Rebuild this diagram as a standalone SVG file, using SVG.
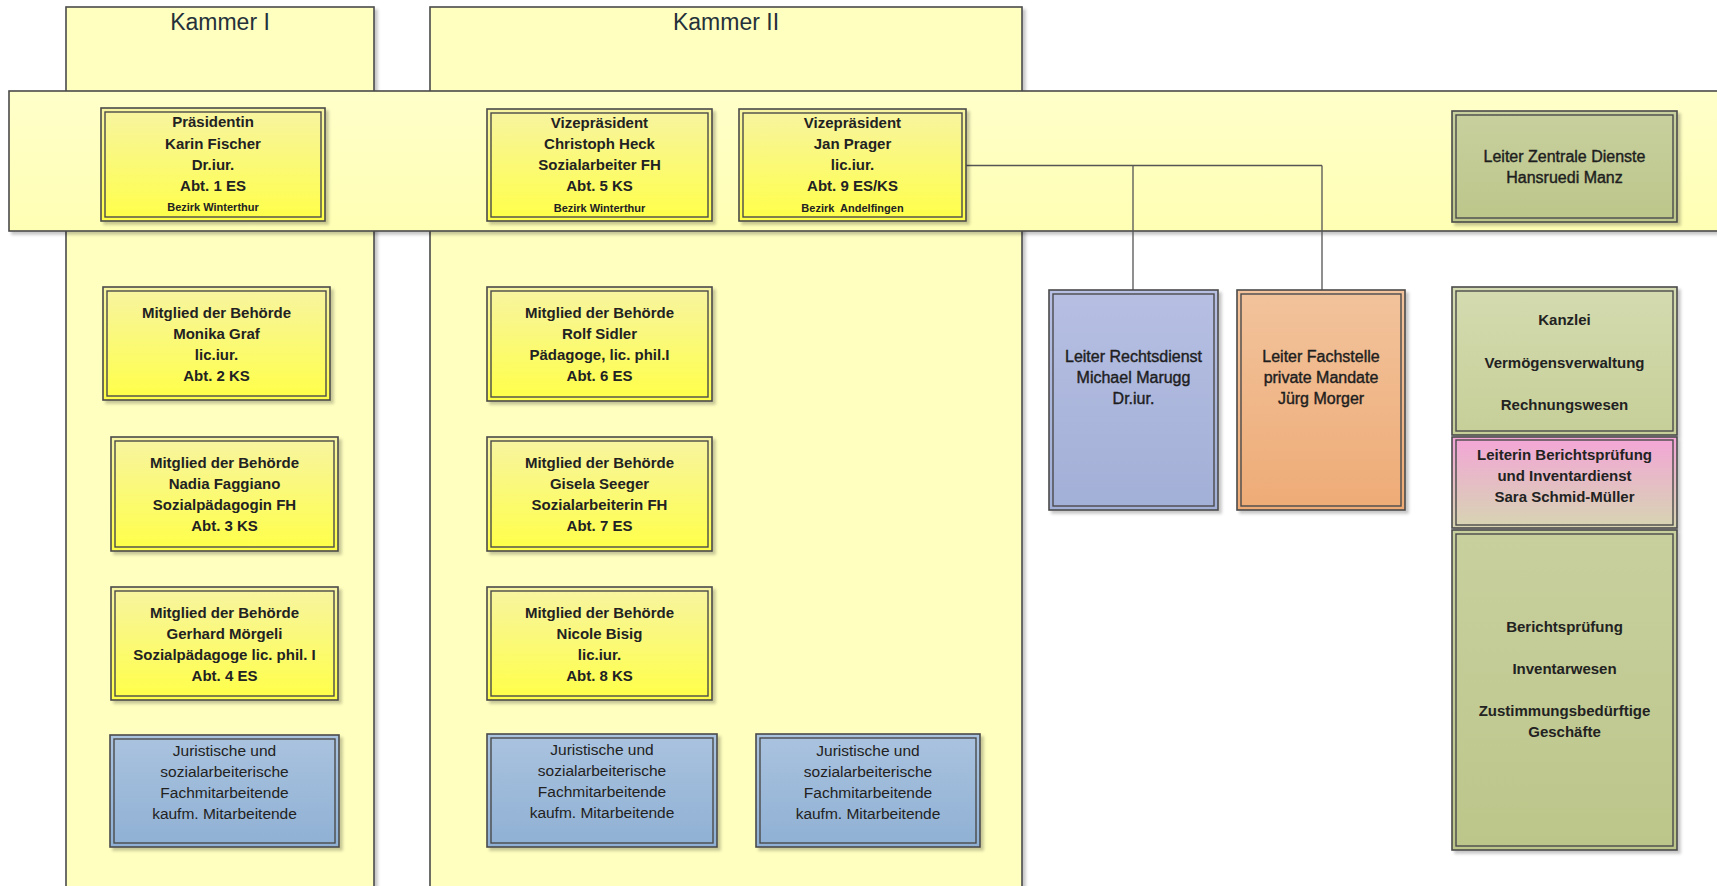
<svg xmlns="http://www.w3.org/2000/svg" width="1717" height="886" viewBox="0 0 1717 886">
<defs>
<style>
.o{stroke:#4a4a4a;stroke-width:1.6}
.i{fill:none;stroke:#4a4a4a;stroke-width:1.4}
.t{font-family:"Liberation Sans",Arial,sans-serif;font-size:15px;font-weight:bold;fill:#222;text-anchor:middle}
.s{font-family:"Liberation Sans",Arial,sans-serif;font-size:11px;font-weight:bold;fill:#222;text-anchor:middle}
.r{font-family:"Liberation Sans",Arial,sans-serif;font-size:15.5px;fill:#222;text-anchor:middle}
.m{font-family:"Liberation Sans",Arial,sans-serif;font-size:16px;fill:#1e1e1e;stroke:#1e1e1e;stroke-width:0.4;text-anchor:middle}
.k{font-family:"Liberation Sans",Arial,sans-serif;font-size:23px;fill:#25313a;text-anchor:middle}
.c{fill:none;stroke:#555;stroke-width:1.3}
</style>
<filter id="sh" x="-10%" y="-10%" width="130%" height="130%">
<feDropShadow dx="3" dy="3" stdDeviation="1.5" flood-color="#000" flood-opacity="0.22"/>
</filter>
<linearGradient id="gy" x1="0" y1="0" x2="0" y2="1"><stop offset="0" stop-color="#f7f4a2"/><stop offset="1" stop-color="#ffff48"/></linearGradient>
<linearGradient id="gband" x1="0" y1="0" x2="0" y2="1"><stop offset="0" stop-color="#ffffca"/><stop offset="1" stop-color="#ffffb4"/></linearGradient>
<linearGradient id="gg" x1="0" y1="0" x2="0" y2="1"><stop offset="0" stop-color="#c8d09e"/><stop offset="1" stop-color="#bcc68a"/></linearGradient>
<linearGradient id="gk" x1="0" y1="0" x2="0" y2="1"><stop offset="0" stop-color="#d4dbb0"/><stop offset="1" stop-color="#c6cf98"/></linearGradient>
<linearGradient id="gp" x1="0" y1="0" x2="0" y2="1"><stop offset="0" stop-color="#f4a5d7"/><stop offset="1" stop-color="#d6d5b2"/></linearGradient>
<linearGradient id="gbl" x1="0" y1="0" x2="0" y2="1"><stop offset="0" stop-color="#b7bfe3"/><stop offset="1" stop-color="#a2afd6"/></linearGradient>
<linearGradient id="go" x1="0" y1="0" x2="0" y2="1"><stop offset="0" stop-color="#f2c39c"/><stop offset="1" stop-color="#eeab76"/></linearGradient>
<linearGradient id="gj" x1="0" y1="0" x2="0" y2="1"><stop offset="0" stop-color="#aac3df"/><stop offset="1" stop-color="#8fb0d4"/></linearGradient>
</defs>
<rect width="1717" height="886" fill="#fff"/>

<g id="kammer1">
<rect class="o" x="66" y="7" width="308" height="890" fill="#ffffc0" filter="url(#sh)"/>
<text class="k" x="220" y="30">Kammer I</text>
</g>
<g id="kammer2">
<rect class="o" x="430" y="7" width="592" height="890" fill="#ffffc0" filter="url(#sh)"/>
<text class="k" x="726" y="30">Kammer II</text>
</g>
<g id="band">
<rect class="o" x="9" y="91" width="1720" height="140" fill="url(#gband)" filter="url(#sh)"/>
</g>

<g id="connectors">
<path class="c" d="M966 165.5 H1322 M1133 165.5 V290 M1322 165.5 V290"/>
</g>

<g id="praesidentin">
<rect class="o" x="101" y="108" width="224" height="113" fill="url(#gy)" filter="url(#sh)"/>
<rect class="i" x="105" y="112" width="216" height="105"/>
<text class="t" x="213" y="127">Präsidentin</text>
<text class="t" x="213" y="149">Karin Fischer</text>
<text class="t" x="213" y="170">Dr.iur.</text>
<text class="t" x="213" y="191">Abt. 1 ES</text>
<text class="s" x="213" y="211">Bezirk Winterthur</text>
</g>
<g id="vize1">
<rect class="o" x="487" y="109" width="225" height="112" fill="url(#gy)" filter="url(#sh)"/>
<rect class="i" x="491" y="113" width="217" height="104"/>
<text class="t" x="599.5" y="128">Vizepräsident</text>
<text class="t" x="599.5" y="149">Christoph Heck</text>
<text class="t" x="599.5" y="170">Sozialarbeiter FH</text>
<text class="t" x="599.5" y="191">Abt. 5 KS</text>
<text class="s" x="599.5" y="212">Bezirk Winterthur</text>
</g>
<g id="vize2">
<rect class="o" x="739" y="109" width="227" height="112" fill="url(#gy)" filter="url(#sh)"/>
<rect class="i" x="743" y="113" width="219" height="104"/>
<text class="t" x="852.5" y="128">Vizepräsident</text>
<text class="t" x="852.5" y="149">Jan Prager</text>
<text class="t" x="852.5" y="170">lic.iur.</text>
<text class="t" x="852.5" y="191">Abt. 9 ES/KS</text>
<text class="s" x="852.5" y="212" xml:space="preserve">Bezirk  Andelfingen</text>
</g>
<g id="zentrale">
<rect class="o" x="1452" y="111" width="225" height="111" fill="url(#gg)" filter="url(#sh)"/>
<rect class="i" x="1456" y="115" width="217" height="103"/>
<text class="m" x="1564.5" y="162">Leiter Zentrale Dienste</text>
<text class="m" x="1564.5" y="183">Hansruedi Manz</text>
</g>

<g id="graf">
<rect class="o" x="103" y="287" width="227" height="113" fill="url(#gy)" filter="url(#sh)"/>
<rect class="i" x="107" y="291" width="219" height="105"/>
<text class="t" x="216.5" y="318">Mitglied der Behörde</text>
<text class="t" x="216.5" y="339">Monika Graf</text>
<text class="t" x="216.5" y="360">lic.iur.</text>
<text class="t" x="216.5" y="381">Abt. 2 KS</text>
</g>
<g id="faggiano">
<rect class="o" x="111" y="437" width="227" height="114" fill="url(#gy)" filter="url(#sh)"/>
<rect class="i" x="115" y="441" width="219" height="106"/>
<text class="t" x="224.5" y="468">Mitglied der Behörde</text>
<text class="t" x="224.5" y="489">Nadia Faggiano</text>
<text class="t" x="224.5" y="510">Sozialpädagogin FH</text>
<text class="t" x="224.5" y="531">Abt. 3 KS</text>
</g>
<g id="moergeli">
<rect class="o" x="111" y="587" width="227" height="113" fill="url(#gy)" filter="url(#sh)"/>
<rect class="i" x="115" y="591" width="219" height="105"/>
<text class="t" x="224.5" y="618">Mitglied der Behörde</text>
<text class="t" x="224.5" y="639">Gerhard Mörgeli</text>
<text class="t" x="224.5" y="660">Sozialpädagoge lic. phil. I</text>
<text class="t" x="224.5" y="681">Abt. 4 ES</text>
</g>
<g id="jur1">
<rect class="o" x="110" y="735" width="229" height="112" fill="url(#gj)" filter="url(#sh)"/>
<rect class="i" x="114" y="739" width="221" height="104"/>
<text class="r" x="224.5" y="756">Juristische und</text>
<text class="r" x="224.5" y="777">sozialarbeiterische</text>
<text class="r" x="224.5" y="798">Fachmitarbeitende</text>
<text class="r" x="224.5" y="819">kaufm. Mitarbeitende</text>
</g>

<g id="sidler">
<rect class="o" x="487" y="287" width="225" height="114" fill="url(#gy)" filter="url(#sh)"/>
<rect class="i" x="491" y="291" width="217" height="106"/>
<text class="t" x="599.5" y="318">Mitglied der Behörde</text>
<text class="t" x="599.5" y="339">Rolf Sidler</text>
<text class="t" x="599.5" y="360">Pädagoge, lic. phil.I</text>
<text class="t" x="599.5" y="381">Abt. 6 ES</text>
</g>
<g id="seeger">
<rect class="o" x="487" y="437" width="225" height="114" fill="url(#gy)" filter="url(#sh)"/>
<rect class="i" x="491" y="441" width="217" height="106"/>
<text class="t" x="599.5" y="468">Mitglied der Behörde</text>
<text class="t" x="599.5" y="489">Gisela Seeger</text>
<text class="t" x="599.5" y="510">Sozialarbeiterin FH</text>
<text class="t" x="599.5" y="531">Abt. 7 ES</text>
</g>
<g id="bisig">
<rect class="o" x="487" y="587" width="225" height="113" fill="url(#gy)" filter="url(#sh)"/>
<rect class="i" x="491" y="591" width="217" height="105"/>
<text class="t" x="599.5" y="618">Mitglied der Behörde</text>
<text class="t" x="599.5" y="639">Nicole Bisig</text>
<text class="t" x="599.5" y="660">lic.iur.</text>
<text class="t" x="599.5" y="681">Abt. 8 KS</text>
</g>
<g id="jur2">
<rect class="o" x="487" y="734" width="230" height="113" fill="url(#gj)" filter="url(#sh)"/>
<rect class="i" x="491" y="738" width="222" height="105"/>
<text class="r" x="602" y="755">Juristische und</text>
<text class="r" x="602" y="776">sozialarbeiterische</text>
<text class="r" x="602" y="797">Fachmitarbeitende</text>
<text class="r" x="602" y="818">kaufm. Mitarbeitende</text>
</g>
<g id="jur3">
<rect class="o" x="756" y="734" width="224" height="113" fill="url(#gj)" filter="url(#sh)"/>
<rect class="i" x="760" y="738" width="216" height="105"/>
<text class="r" x="868" y="756">Juristische und</text>
<text class="r" x="868" y="777">sozialarbeiterische</text>
<text class="r" x="868" y="798">Fachmitarbeitende</text>
<text class="r" x="868" y="819">kaufm. Mitarbeitende</text>
</g>

<g id="rechtsdienst">
<rect class="o" x="1049" y="290" width="169" height="220" fill="url(#gbl)" filter="url(#sh)"/>
<rect class="i" x="1053" y="294" width="161" height="212"/>
<text class="m" x="1133.5" y="362">Leiter Rechtsdienst</text>
<text class="m" x="1133.5" y="383">Michael Marugg</text>
<text class="m" x="1133.5" y="404">Dr.iur.</text>
</g>
<g id="fachstelle">
<rect class="o" x="1237" y="290" width="168" height="220" fill="url(#go)" filter="url(#sh)"/>
<rect class="i" x="1241" y="294" width="160" height="212"/>
<text class="m" x="1321" y="362">Leiter Fachstelle</text>
<text class="m" x="1321" y="383">private Mandate</text>
<text class="m" x="1321" y="404">Jürg Morger</text>
</g>

<g id="kanzlei">
<rect class="o" x="1452" y="287" width="225" height="148" fill="url(#gk)" filter="url(#sh)"/>
<rect class="i" x="1456" y="291" width="217" height="140"/>
<text class="t" x="1564.5" y="325">Kanzlei</text>
<text class="t" x="1564.5" y="368">Vermögensverwaltung</text>
<text class="t" x="1564.5" y="410">Rechnungswesen</text>
</g>
<g id="leiterin">
<rect class="o" x="1452" y="437" width="225" height="91" fill="url(#gp)" filter="url(#sh)"/>
<rect class="i" x="1456" y="440" width="217" height="85"/>
<text class="t" x="1564.5" y="460">Leiterin Berichtsprüfung</text>
<text class="t" x="1564.5" y="481">und Inventardienst</text>
<text class="t" x="1564.5" y="502">Sara Schmid-Müller</text>
</g>
<g id="berichtspruefung">
<rect class="o" x="1452" y="530" width="225" height="320" fill="url(#gg)" filter="url(#sh)"/>
<rect class="i" x="1456" y="534" width="217" height="312"/>
<text class="t" x="1564.5" y="632">Berichtsprüfung</text>
<text class="t" x="1564.5" y="674">Inventarwesen</text>
<text class="t" x="1564.5" y="716">Zustimmungsbedürftige</text>
<text class="t" x="1564.5" y="737">Geschäfte</text>
</g>
</svg>
